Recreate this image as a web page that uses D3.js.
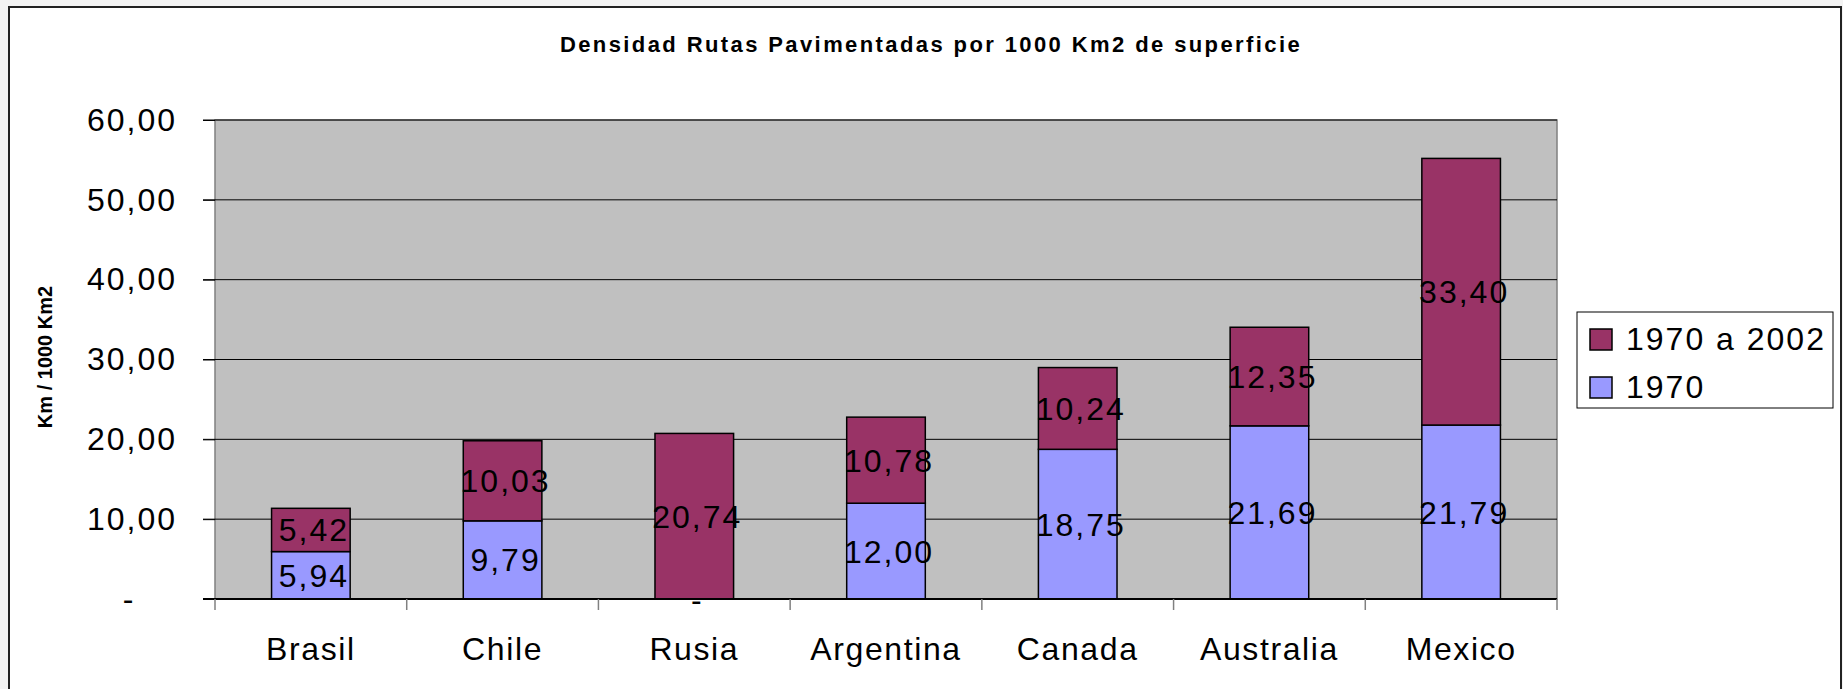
<!DOCTYPE html>
<html>
<head>
<meta charset="utf-8">
<script src="https://cdn.jsdelivr.net/npm/d3@7"></script>
<style>
  html, body { margin: 0; padding: 0; background: #f3f3f3; }
  svg { display: block; font-family: "Liberation Sans", Arial, sans-serif; }
</style>
</head>
<body>
<div id="root"></div>
<script>
const categories = ["Brasil", "Chile", "Rusia", "Argentina", "Canada", "Australia", "Mexico"];
const values1970 = [5.94, 9.79, 0, 12.0, 18.75, 21.69, 21.79];
const values1970to2002 = [5.42, 10.03, 20.74, 10.78, 10.24, 12.35, 33.4];
const seriesKeys = ["1970", "1970 a 2002"];
const yTicks = [0, 10, 20, 30, 40, 50, 60];

const title = "Densidad Rutas Pavimentadas por 1000 Km2 de superficie";
const yTitle = "Km / 1000 Km2";

const colors = { "1970": "#9999FF", "1970 a 2002": "#993366" };

const width = 1843;
const height = 689;
const margins = { top: 120, right: 286, bottom: 90, left: 215 };
const plotW = width - margins.left - margins.right;
const plotH = height - margins.top - margins.bottom;

const fmt = v => (v === 0 ? "-" : d3.format(".2f")(v).replace(".", ","));

const rows = categories.map((c, i) => ({
  cat: c,
  "1970": values1970[i],
  "1970 a 2002": values1970to2002[i]
}));
const stacked = d3.stack().keys(seriesKeys)(rows);

const x = d3.scaleBand().domain(categories).range([0, plotW]).paddingInner(0.59).paddingOuter(0.295);
const y = d3.scaleLinear().domain([0, 60]).range([plotH, 0]);

const svg = d3.select("#root").append("svg").attr("width", width).attr("height", height);

// chart frame
svg.append("rect")
  .attr("x", 9).attr("y", 7)
  .attr("width", 1832).attr("height", 700)
  .style("fill", "#fff").style("stroke", "#222").style("stroke-width", 2);

svg.append("text")
  .attr("x", 931).attr("y", 52)
  .attr("text-anchor", "middle")
  .style("font-size", "22px").style("font-weight", "bold").style("letter-spacing", "2.4px")
  .text(title);

svg.append("text")
  .attr("transform", "translate(52, 357) rotate(-90)")
  .attr("text-anchor", "middle")
  .style("font-size", "20px").style("font-weight", "bold")
  .text(yTitle);

const g = svg.append("g").attr("transform", `translate(${margins.left}, ${margins.top})`);

// plot area
g.append("rect")
  .attr("width", plotW).attr("height", plotH)
  .style("fill", "#C0C0C0").style("stroke", "#808080").style("stroke-width", 1.5);

// gridlines + y ticks
g.selectAll(".grid").data(yTicks.filter(t => t > 0)).enter()
  .append("line").attr("class", "grid")
  .attr("x1", -12).attr("x2", plotW)
  .attr("y1", d => y(d)).attr("y2", d => y(d))
  .style("stroke", "#000").style("stroke-width", 1);

const yAxis = g.append("g").call(
  d3.axisLeft(y).tickValues(yTicks).tickSize(12).tickPadding(26).tickFormat(fmt)
);
yAxis.select(".domain").remove();
yAxis.selectAll(".tick line").style("stroke", "#000");
yAxis.selectAll(".tick text")
  .style("font-size", "32px").style("letter-spacing", "2px").style("fill", "#000")
  .filter(d => d === 0).attr("x", -86).attr("text-anchor", "middle");

// bars
const layer = g.selectAll(".layer").data(stacked).enter()
  .append("g").attr("class", "layer")
  .style("fill", d => colors[d.key]);

layer.selectAll("rect").data(d => d).enter()
  .append("rect")
  .attr("x", d => x(d.data.cat))
  .attr("y", d => y(d[1]))
  .attr("width", x.bandwidth())
  .attr("height", d => y(d[0]) - y(d[1]))
  .style("stroke", "#000").style("stroke-width", 1.5);

// x axis: baseline and category separators
g.append("line")
  .attr("x1", -12).attr("x2", plotW)
  .attr("y1", y(0)).attr("y2", y(0))
  .style("stroke", "#000").style("stroke-width", 2);

g.selectAll(".xtick").data(d3.range(categories.length + 1)).enter()
  .append("line").attr("class", "xtick")
  .attr("x1", i => i * x.step()).attr("x2", i => i * x.step())
  .attr("y1", y(0)).attr("y2", y(0) + 11)
  .style("stroke", "#808080").style("stroke-width", 1.5);

g.selectAll(".xlabel").data(categories).enter()
  .append("text").attr("class", "xlabel")
  .attr("x", d => x(d) + x.bandwidth() / 2)
  .attr("y", plotH + 61)
  .attr("text-anchor", "middle")
  .style("font-size", "32px").style("letter-spacing", "1.6px")
  .text(d => d);

// data labels
layer.selectAll(".val").data(d => d.map(p => ({ p, key: d.key }))).enter()
  .append("text").attr("class", "val")
  .attr("x", d => x(d.p.data.cat) + x.bandwidth() / 2 + 3)
  .attr("y", d => (y(d.p[0]) + y(d.p[1])) / 2)
  .attr("dy", "0.36em")
  .attr("text-anchor", "middle")
  .style("fill", "#000")
  .style("font-size", "32px").style("letter-spacing", "2px")
  .text(d => fmt(d.p.data[d.key]));

// legend
const legend = svg.append("g").attr("transform", "translate(1577, 312)");
legend.append("rect")
  .attr("width", 256).attr("height", 96)
  .style("fill", "#fff").style("stroke", "#000").style("stroke-width", 1);

const items = legend.selectAll(".item").data(seriesKeys.slice().reverse()).enter()
  .append("g").attr("class", "item")
  .attr("transform", (d, i) => `translate(13, ${17 + i * 48})`);

items.append("rect")
  .attr("width", 22).attr("height", 21)
  .style("fill", d => colors[d]).style("stroke", "#000").style("stroke-width", 1.5);

items.append("text")
  .attr("x", 36).attr("y", 21)
  .style("font-size", "32px").style("letter-spacing", "2px")
  .text(d => d);
</script>
</body>
</html>
